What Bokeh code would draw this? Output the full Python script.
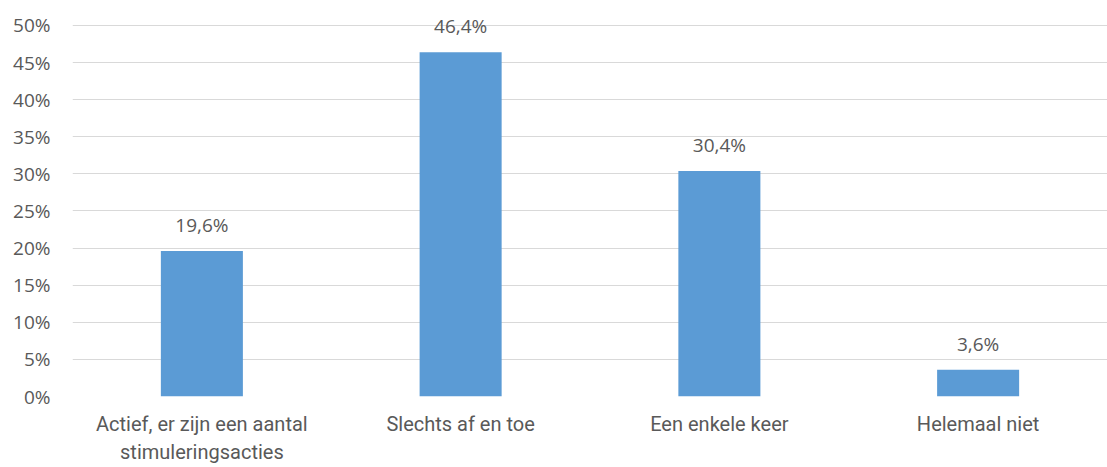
from bokeh.plotting import figure
from bokeh.models import ColumnDataSource, FactorRange, NumeralTickFormatter, FixedTicker, Range1d
from bokeh.core.properties import value
from bokeh.embed import file_html
from bokeh.resources import INLINE

categories = ["Actief, er zijn een aantal\nstimuleringsacties", "Slechts af en toe", "Een enkele keer", "Helemaal niet"]
values = [0.196, 0.464, 0.304, 0.036]
labels = ["19,6%", "46,4%", "30,4%", "3,6%"]
y_ticks = [0, 0.05, 0.10, 0.15, 0.20, 0.25, 0.30, 0.35, 0.40, 0.45, 0.50]

FONT = "Open Sans"
XFONT = "Roboto"
GREY = "#595959"

src = ColumnDataSource(dict(cat=categories, val=values, lab=labels))

p = figure(width=1107, height=467, x_range=FactorRange(factors=categories),
           y_range=Range1d(0, 0.5336), output_backend="svg", toolbar_location=None,
           min_border_left=72, min_border_right=0, min_border_top=0, min_border_bottom=70)
p.outline_line_color = None
p.background_fill_color = "white"
p.border_fill_color = "white"

p.vbar(x="cat", top="val", width=0.317, source=src, fill_color="#5b9bd5", line_color=None)
p.text(x="cat", y="val", text="lab", source=src, text_align="center", text_baseline="middle",
       y_offset=-26, text_font=value(FONT), text_font_size="19px", text_color=GREY)

p.yaxis.ticker = FixedTicker(ticks=y_ticks)
p.yaxis.formatter = NumeralTickFormatter(format="0%")
p.yaxis.axis_line_color = None
p.yaxis.major_tick_line_color = None
p.yaxis.minor_tick_line_color = None
p.yaxis.major_tick_out = 0
p.yaxis.minor_tick_out = 0
p.yaxis.major_label_text_font = FONT
p.yaxis.major_label_text_font_size = "19px"
p.yaxis.major_label_text_color = GREY
p.yaxis.major_label_standoff = 22

p.xaxis.axis_line_color = None
p.xaxis.major_tick_line_color = None
p.xaxis.minor_tick_line_color = None
p.xaxis.major_tick_out = 0
p.xaxis.minor_tick_out = 0
p.xaxis.major_label_text_font = XFONT
p.xaxis.major_label_text_font_size = "20px"
p.xaxis.major_label_text_color = GREY
p.xaxis.major_label_standoff = 15

p.xgrid.grid_line_color = None
p.ygrid.grid_line_color = "#d9d9d9"
p.ygrid.grid_line_width = 1

open("out.html", "w").write(file_html(p, INLINE))
